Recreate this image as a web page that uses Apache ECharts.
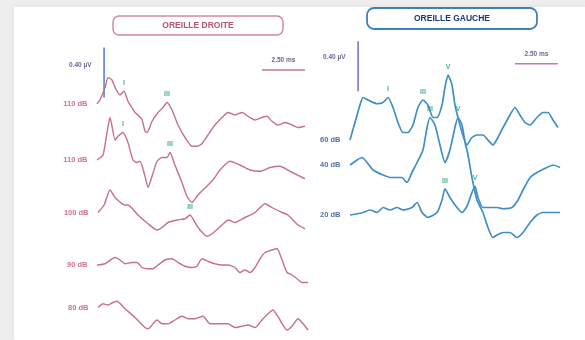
<!DOCTYPE html>
<html>
<head>
<meta charset="utf-8">
<script src="https://cdn.jsdelivr.net/npm/echarts@6/dist/echarts.min.js"></script>
<style>
  html, body { margin: 0; padding: 0; background: #eeeeee; }
  #chart { width: 585px; height: 340px; }
</style>
</head>
<body>
<div id="chart"></div>
<script>
// Auditory brainstem responses, time in ms, amplitude in µV relative to each trace's baseline.
const titleDroite = 'OREILLE DROITE';
const titleGauche = 'OREILLE GAUCHE';
const levelsDroite = ['110 dB', '110 dB', '100 dB', '90 dB', '80 dB'];
const levelsGauche = ['60 dB', '40 dB', '20 dB'];
const scaleUv = 0.40;   // vertical calibration bar, µV
const scaleMs = 2.50;   // horizontal calibration bar, ms

const droite110a = [[0,0],[0.17,0.03],[0.47,0.13],[0.64,0.21],[0.87,0.19],[1.05,0.13],[1.34,0.07],[1.57,0.10],[1.80,0.02],[2.03,-0.03],[2.21,-0.07],[2.38,-0.09],[2.62,-0.13],[2.79,-0.22],[2.91,-0.23],[3.20,-0.14],[3.55,-0.07],[3.84,-0.03],[4.07,0.01],[4.36,-0.05],[4.71,-0.17],[5.12,-0.27],[5.52,-0.34],[5.81,-0.34],[6.10,-0.32],[6.45,-0.25],[6.86,-0.17],[7.27,-0.11],[7.62,-0.07],[8.02,-0.09],[8.43,-0.07],[8.78,-0.10],[9.19,-0.13],[9.59,-0.11],[9.88,-0.10],[10.17,-0.14],[10.52,-0.17],[10.93,-0.15],[11.34,-0.17],[11.69,-0.19],[12.09,-0.18]];
const droite110b = [[0,-0.01],[0.35,0.03],[0.58,0.21],[0.76,0.33],[1.05,0.15],[1.22,0.18],[1.51,0.21],[1.80,0.13],[2.09,-0.01],[2.33,-0.03],[2.50,-0.02],[2.79,-0.14],[2.97,-0.23],[3.20,-0.14],[3.49,-0.02],[3.78,0.01],[4.07,0.01],[4.24,0.05],[4.53,-0.05],[4.94,-0.19],[5.23,-0.30],[5.52,-0.35],[5.81,-0.30],[6.16,-0.25],[6.74,-0.17],[7.15,-0.09],[7.73,-0.02],[8.31,-0.05],[8.90,-0.09],[9.48,-0.10],[10.06,-0.07],[10.64,-0.06],[11.22,-0.10],[12.09,-0.16]];
const droite100 = [[0.06,0],[0.41,0.06],[0.76,0.18],[1.05,0.12],[1.63,0.06],[1.80,0.06],[2.38,-0.02],[2.97,-0.09],[3.49,-0.14],[3.78,-0.12],[4.13,-0.08],[4.65,-0.06],[5.12,-0.05],[5.41,-0.02],[5.70,-0.08],[5.99,-0.14],[6.40,-0.19],[6.69,-0.17],[7.27,-0.10],[7.62,-0.06],[8.02,-0.08],[8.60,-0.04],[9.19,0],[9.77,0.07],[10.17,0.04],[10.76,0],[11.10,-0.02],[11.69,-0.10],[12.09,-0.13]];
const droite90 = [[0,0.01],[0.47,0.02],[1.05,0.07],[1.34,0.05],[1.63,0.02],[2.03,0.03],[2.33,0.03],[2.62,-0.01],[2.91,-0.02],[3.26,-0.02],[3.55,0.01],[3.95,0.05],[4.36,0.06],[4.71,0.03],[5.12,0],[5.52,-0.01],[5.81,0],[6.10,0.06],[6.45,0.04],[6.86,0.02],[7.27,0.01],[7.62,0.01],[8.02,-0.01],[8.31,-0.05],[8.60,-0.03],[8.90,-0.05],[9.19,-0.01],[9.48,0.06],[9.77,0.11],[10.17,0.13],[10.47,0.14],[10.76,0.05],[11.05,-0.05],[11.34,-0.07],[11.63,-0.10],[11.92,-0.13],[12.27,-0.13]];
const droite80 = [[0.06,-0.01],[0.35,0.02],[0.64,0.01],[0.93,0.03],[1.16,0.04],[1.63,-0.02],[2.21,-0.09],[2.79,-0.17],[2.97,-0.18],[3.49,-0.11],[3.78,-0.14],[4.13,-0.14],[4.53,-0.11],[4.94,-0.08],[5.29,-0.10],[5.70,-0.10],[6.16,-0.08],[6.57,-0.14],[7.03,-0.14],[7.62,-0.14],[8.02,-0.17],[8.43,-0.16],[8.78,-0.15],[9.19,-0.17],[9.59,-0.11],[9.94,-0.06],[10.23,-0.03],[10.64,-0.11],[11.05,-0.19],[11.34,-0.16],[11.69,-0.10],[11.98,-0.14],[12.27,-0.19]];

const gauche60 = [[0,0],[0.29,0.14],[0.58,0.28],[0.76,0.34],[1.05,0.32],[1.57,0.29],[1.92,0.30],[2.21,0.34],[2.50,0.26],[2.79,0.14],[3.08,0.06],[3.37,0.06],[3.66,0.12],[3.95,0.26],[4.24,0.32],[4.53,0.28],[4.83,0.18],[5.06,0.18],[5.35,0.28],[5.52,0.42],[5.70,0.52],[5.93,0.44],[6.10,0.28],[6.28,0.18],[6.51,0.06],[6.80,-0.04],[7.09,0.02],[7.38,0.04],[7.73,0.04],[8.02,0],[8.31,-0.04],[8.60,0.02],[8.90,0.10],[9.30,0.20],[9.59,0.26],[9.88,0.20],[10.17,0.14],[10.47,0.12],[10.87,0.18],[11.22,0.22],[11.51,0.22],[11.80,0.16],[12.09,0.10]];
const gauche40 = [[0,0],[0.41,0.04],[0.70,0.06],[0.99,0.02],[1.34,-0.04],[1.92,-0.08],[2.33,-0.10],[2.62,-0.10],[3.02,-0.10],[3.31,-0.14],[3.60,-0.06],[3.90,0.02],[4.24,0.12],[4.48,0.30],[4.65,0.38],[4.94,0.32],[5.23,0.16],[5.52,0.02],[5.81,0.12],[6.10,0.30],[6.28,0.38],[6.51,0.32],[6.69,0.18],[6.86,0.08],[7.09,-0.10],[7.38,-0.28],[7.73,-0.38],[8.02,-0.50],[8.31,-0.58],[8.55,-0.56],[8.90,-0.54],[9.30,-0.54],[9.71,-0.58],[10.06,-0.54],[10.47,-0.46],[10.87,-0.40],[11.22,-0.38],[11.63,-0.38],[12.21,-0.38]];
const gauche20 = [[0,0],[0.76,0.02],[1.16,0.04],[1.57,0.02],[1.92,0.06],[2.33,0.04],[2.73,0.06],[3.08,0.04],[3.60,0.06],[3.90,0.10],[4.19,0.02],[4.53,-0.02],[5.06,0.02],[5.35,0.12],[5.52,0.21],[5.81,0.14],[6.22,0.06],[6.51,0.02],[6.80,0.07],[7.09,0.18],[7.27,0.23],[7.44,0.14],[7.73,0.06],[8.02,0.06],[8.55,0.06],[8.90,0.05],[9.42,0.06],[9.77,0.12],[10.06,0.20],[10.47,0.30],[10.87,0.34],[11.45,0.38],[11.80,0.40],[12.21,0.38]];

// Wave markers: [trace index, latency ms, name]
const peaksDroite = [[0, 1.57, 'I'], [0, 4.07, 'III'], [1, 1.51, 'I'], [1, 4.24, 'III'], [2, 5.41, 'III']];
const peaksGauche = [[0, 2.21, 'I'], [0, 4.24, 'III'], [0, 5.70, 'V'], [1, 4.65, 'III'], [1, 6.28, 'V'], [2, 5.52, 'III'], [2, 7.27, 'V']];

const tracesDroite = [droite110a, droite110b, droite100, droite90, droite80];
const tracesGauche = [gauche60, gauche40, gauche20];
// vertical stacking of the traces (µV below the top of the plot)
const baseDroite = [0.51, 0.95, 1.38, 1.81, 2.13];
const baseGauche = [0.80, 1.00, 1.40];

const colDroite = '#c66f90';
const colGauche = '#3f8fc6';
const colPeak = '#1f9c76';
const font = 'Liberation Sans, Arial, sans-serif';

function shift(trace, base) {
  return trace.map(p => [p[0], p[1] - base]);
}
function ampAt(trace, t) {
  const p = trace.find(q => q[0] === t);
  return p ? p[1] : 0;
}
function textSeries(idx, data, position, distance, color, size, z) {
  return {
    type: 'scatter', xAxisIndex: idx, yAxisIndex: idx,
    symbolSize: 1, itemStyle: { color: 'rgba(0,0,0,0)' },
    data: data,
    label: {
      show: true, position: position, distance: distance,
      formatter: p => p.data[2],
      color: color, fontSize: size, fontWeight: 'bold', fontFamily: font
    },
    z: z
  };
}

const series = [];
function addPanel(idx, traces, bases, levels, peaks, color, levelColor, width) {
  traces.forEach((tr, i) => {
    series.push({
      type: 'line', xAxisIndex: idx, yAxisIndex: idx,
      data: shift(tr, bases[i]),
      showSymbol: false, smooth: 0.2, clip: false,
      lineStyle: { color: color, width: width },
      z: 3
    });
  });
  series.push(textSeries(idx,
    traces.map((tr, i) => [tr[0][0], tr[0][1] - bases[i], levels[i]]),
    'left', 9, levelColor, 7.5, 4));
  series.push(textSeries(idx,
    peaks.map(pk => [pk[1], ampAt(traces[pk[0]], pk[1]) - bases[pk[0]], pk[2]]),
    'top', 4, colPeak, 7, 5));
}

addPanel(0, tracesDroite, baseDroite, levelsDroite, peaksDroite, colDroite, '#c24d6e', 1.4);
addPanel(1, tracesGauche, baseGauche, levelsGauche, peaksGauche, colGauche, '#2b4d8c', 1.7);

// calibration bars: vertical µV bar and horizontal ms bar
function calib(idx, tx, top, ty, hy, vColor, hColor, uvDrop) {
  series.push({
    type: 'line', xAxisIndex: idx, yAxisIndex: idx, showSymbol: false, clip: false,
    data: [[tx, top], [tx, top - scaleUv]],
    lineStyle: { color: vColor, width: 1.5 }, z: 2
  });
  series.push({
    type: 'line', xAxisIndex: idx, yAxisIndex: idx, showSymbol: false, clip: false,
    data: [[ty, hy], [ty + scaleMs, hy]],
    lineStyle: { color: hColor, width: 1.4 }, z: 2
  });
  series.push(textSeries(idx, [[tx, top - uvDrop, scaleUv.toFixed(2) + ' µV']], 'left', 12, '#3b3f78', 6.5, 4));
  series.push(textSeries(idx, [[ty + scaleMs / 2, hy, scaleMs.toFixed(2) + ' ms']], 'top', 6, '#3b3f78', 6.5, 4));
}

calib(0, 0.41, -0.06, 9.59, -0.24, '#4b7cc4', '#c476a0', 0.14);
calib(1, 0.47, -0.01, 9.59, -0.19, '#7a6cc0', '#c27ab0', 0.13);

const option = {
  animation: false,
  backgroundColor: 'transparent',
  grid: [
    { left: 97, top: 40, width: 12.4 * 17.2, height: 300 },
    { left: 350, top: 40, width: 12.8 * 17.2, height: 300 }
  ],
  xAxis: [
    { type: 'value', gridIndex: 0, min: 0, max: 12.4, show: false },
    { type: 'value', gridIndex: 1, min: 0, max: 12.8, show: false }
  ],
  yAxis: [
    { type: 'value', gridIndex: 0, min: -2.4, max: 0, show: false },
    { type: 'value', gridIndex: 1, min: -2.4, max: 0, show: false }
  ],
  graphic: [
    { type: 'rect', shape: { x: 14, y: 7, width: 571, height: 333 }, style: { fill: '#ffffff', shadowBlur: 6, shadowColor: 'rgba(0,0,0,0.06)' }, z: -10 },
    { type: 'rect', shape: { x: 113, y: 16, width: 170, height: 19, r: 6 }, style: { fill: '#fff', stroke: '#cf86a4', lineWidth: 1.4 } },
    { type: 'text', x: 198, y: 25.5, style: { text: titleDroite, fill: '#b55474', font: 'bold 8.5px ' + font, align: 'center', verticalAlign: 'middle' } },
    { type: 'rect', shape: { x: 367, y: 8, width: 170, height: 21, r: 7 }, style: { fill: '#fff', stroke: '#3f7fba', lineWidth: 1.8 } },
    { type: 'text', x: 452, y: 18.5, style: { text: titleGauche, fill: '#1f3a74', font: 'bold 8.5px ' + font, align: 'center', verticalAlign: 'middle' } }
  ],
  series: series
};

echarts.init(document.getElementById('chart'), null, { renderer: 'canvas' }).setOption(option);
</script>
</body>
</html>
